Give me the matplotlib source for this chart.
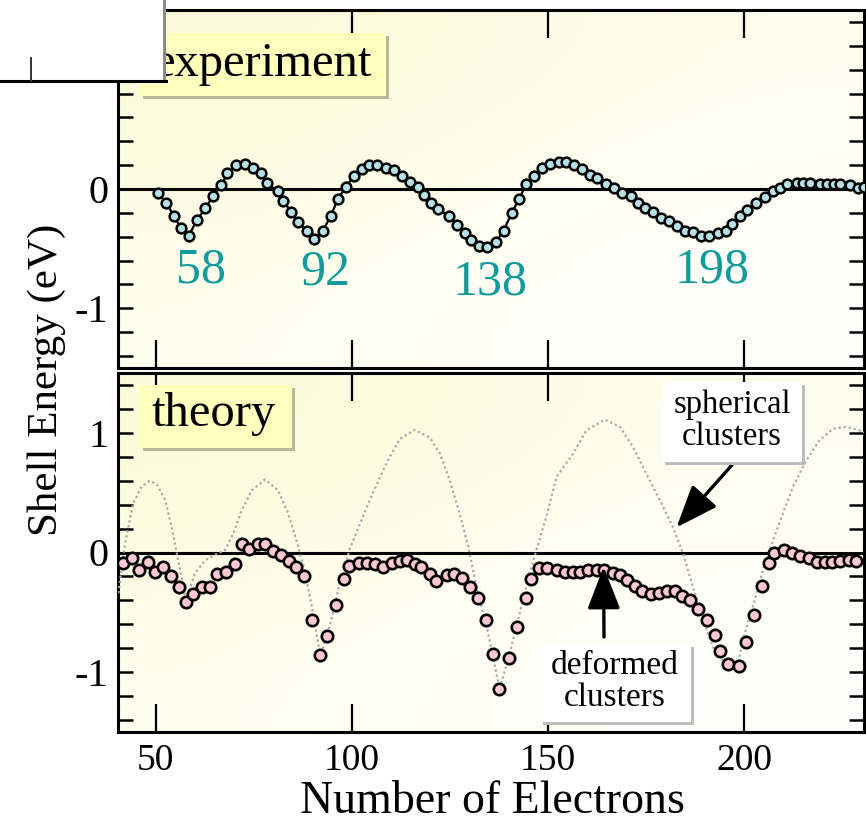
import numpy as np
import matplotlib
matplotlib.use("Agg")
import matplotlib.pyplot as plt
from matplotlib.patches import Rectangle
from matplotlib.lines import Line2D
from matplotlib.colors import LinearSegmentedColormap
from matplotlib.ticker import FixedLocator, FixedFormatter, MultipleLocator

plt.rcParams['font.family'] = ['Liberation Serif', 'DejaVu Serif']
plt.rcParams['axes.unicode_minus'] = False

# experiment: shell energy vs number of electrons
n_exp = [50.6, 52.7, 54.8, 56.4, 58.5, 60.5, 62.7, 64.6, 66.7, 68.3, 70.4, 72.7, 74.7,
         76.8, 78.4, 81.1, 82.4, 84.6, 86.4, 88.5, 90.3, 92.6, 94.6, 96.5, 98.6, 100.5,
         102.7, 104.4, 106.5, 108.8, 110.7, 112.8, 114.8, 116.9, 118.3, 120.3, 122.1,
         124.8, 126.8, 128.9, 130.4, 132.5, 134.5, 136.8, 138.7, 140.8, 142.7, 144.5,
         146.5, 148.5, 150.6, 152.8, 154.7, 156.7, 158.7, 160.8, 162.5, 164.8, 166.9,
         168.9, 171.1, 173.0, 174.7, 176.7, 178.8, 180.8, 182.9, 184.9, 187.0, 189.1,
         191.2, 193.4, 195.4, 197.0, 199.0, 200.8, 203.0, 205.4, 207.3, 209.2, 210.9,
         213.4, 215.1, 216.8, 219.3, 221.2, 222.9, 224.4, 227.0, 229.1, 230.6]
e_exp = [-0.03, -0.12, -0.23, -0.33, -0.39, -0.26, -0.16, -0.06, 0.03, 0.13, 0.20, 0.21,
         0.18, 0.13, 0.05, -0.02, -0.10, -0.19, -0.28, -0.35, -0.42, -0.35, -0.23, -0.08,
         0.02, 0.11, 0.17, 0.20, 0.20, 0.18, 0.16, 0.11, 0.06, 0.02, -0.05, -0.12, -0.17,
         -0.23, -0.30, -0.37, -0.43, -0.48, -0.49, -0.44, -0.35, -0.20, -0.08, 0.04, 0.11,
         0.18, 0.21, 0.23, 0.23, 0.20, 0.17, 0.12, 0.09, 0.04, 0.01, -0.03, -0.06, -0.12,
         -0.16, -0.19, -0.24, -0.27, -0.31, -0.35, -0.36, -0.39, -0.39, -0.37, -0.35,
         -0.29, -0.23, -0.18, -0.12, -0.07, -0.02, 0.01, 0.04, 0.05, 0.05, 0.05, 0.04,
         0.04, 0.04, 0.04, 0.03, 0.01, 0.02]

# theory: deformed clusters
n_th = [41.7, 43.9, 45.8, 48.0, 49.9, 51.9, 53.9, 55.9, 57.7, 59.6, 61.8, 63.8, 65.7,
        67.9, 70.2, 72.1, 73.8, 76.0, 77.8, 79.8, 81.9, 84.0, 85.8, 87.9, 89.8, 92.0,
        93.7, 95.9, 98.1, 99.3, 101.8, 103.8, 105.9, 108.0, 110.2, 112.3, 114.0, 116.1,
        117.6, 119.9, 121.6, 124.2, 126.1, 128.0, 130.1, 132.1, 134.2, 136.0, 137.6,
        140.1, 142.2, 144.3, 145.8, 147.8, 149.9, 152.2, 154.3, 156.3, 158.3, 160.3,
        162.4, 164.3, 166.5, 168.3, 170.3, 172.1, 174.1, 176.2, 178.3, 180.4, 182.3,
        184.3, 186.3, 188.4, 190.5, 192.5, 194.0, 195.9, 198.7, 200.4, 202.5, 204.5,
        206.4, 207.6, 210.1, 212.3, 214.4, 216.6, 218.6, 220.6, 222.4, 224.4, 226.8, 228.6]
e_th = [-0.09, -0.05, -0.15, -0.08, -0.16, -0.12, -0.20, -0.29, -0.41, -0.35, -0.29,
        -0.29, -0.18, -0.16, -0.10, 0.07, 0.03, 0.07, 0.07, 0.01, -0.02, -0.07, -0.12,
        -0.20, -0.56, -0.86, -0.70, -0.44, -0.22, -0.11, -0.09, -0.09, -0.10, -0.12,
        -0.09, -0.07, -0.06, -0.10, -0.12, -0.18, -0.24, -0.19, -0.18, -0.21, -0.29,
        -0.38, -0.56, -0.85, -1.14, -0.88, -0.62, -0.38, -0.22, -0.13, -0.13, -0.15,
        -0.16, -0.16, -0.16, -0.15, -0.15, -0.15, -0.17, -0.19, -0.23, -0.28, -0.32,
        -0.35, -0.34, -0.32, -0.32, -0.36, -0.40, -0.47, -0.56, -0.69, -0.82, -0.93,
        -0.95, -0.75, -0.52, -0.28, -0.09, 0.00, 0.02, 0.00, -0.03, -0.05, -0.08, -0.08,
        -0.08, -0.07, -0.06, -0.07]

# theory: spherical clusters (dotted curve)
n_sph = [40.5, 42.2, 44.3, 46.4, 48.5, 50.3, 52.4, 54.1, 55.4, 56.6, 57.7, 60.0, 62.6,
         65.1, 67.7, 69.8, 71.9, 74.5, 77.9, 81.2, 83.8, 85.9, 88.0, 89.8, 92.0, 94.5,
         97.0, 99.5, 102.1, 104.6, 107.2, 109.7, 112.3, 116.1, 119.9, 122.5, 125.0,
         127.5, 129.7, 131.8, 134.4, 137.7, 140.3, 142.8, 145.3, 147.1, 149.6, 152.2,
         156.4, 159.8, 164.5, 168.4, 171.7, 175.1, 178.5, 181.9, 184.5, 187.0, 189.6,
         192.1, 195.1, 198.3, 199.7, 202.3, 204.8, 207.4, 209.9, 212.5, 215.9, 219.3,
         222.7, 226.1, 229.5, 231.0]
e_sph = [-0.34, 0.075, 0.41, 0.55, 0.60, 0.57, 0.44, 0.21, -0.01, -0.20, -0.41, -0.175,
         -0.065, -0.02, 0.02, 0.16, 0.35, 0.52, 0.61, 0.52, 0.325, 0.10, -0.15, -0.45,
         -0.87, -0.60, -0.25, 0.03, 0.24, 0.44, 0.63, 0.80, 0.95, 1.025, 0.96, 0.825,
         0.60, 0.325, 0.05, -0.29, -0.62, -1.14, -0.84, -0.51, -0.175, 0.02, 0.30, 0.63,
         0.825, 1.02, 1.11, 1.05, 0.88, 0.66, 0.44, 0.21, -0.01, -0.29, -0.56, -0.79,
         -0.925, -0.97, -0.73, -0.45, -0.15, 0.10, 0.325, 0.55, 0.77, 0.94, 1.035, 1.05,
         1.02, 1.0]

magic = ['58', '92', '138', '198']
x_ticks = [50, 100, 150, 200]
y_ticks = [-1, 0, 1]
top_labels = ['-1', '0', '']      # the "1" of the top panel is hidden in the original
bottom_labels = ['-1', '0', '1']

W, H = 866, 826


def fx(x):
    return x / W


def fy(y):
    return 1 - y / H


fig = plt.figure(figsize=(W / 100, H / 100), dpi=100)
ax1 = fig.add_axes([fx(118), fy(368), (864 - 118) / W, (368 - 10) / H])
ax2 = fig.add_axes([fx(118), fy(732), (864 - 118) / W, (732 - 373) / H])

bg = LinearSegmentedColormap.from_list('bg', ['#fbfbd8', '#fefef0', '#ffffff'])
for ax, labels in ((ax1, top_labels), (ax2, bottom_labels)):
    ax.imshow([[0.0, 0.45], [0.45, 1.0]], cmap=bg, vmin=0, vmax=1, extent=(0, 1, 0, 1),
              transform=ax.transAxes, aspect='auto', interpolation='bicubic', zorder=0)
    ax.axhline(0, color='black', lw=2.2, zorder=2)
    ax.set_xlim(40.4, 230.6)
    ax.set_ylim(-1.5, 1.5)
    ax.xaxis.set_major_locator(FixedLocator(x_ticks))
    ax.yaxis.set_major_locator(FixedLocator(y_ticks))
    ax.yaxis.set_major_formatter(FixedFormatter(labels))
    ax.yaxis.set_minor_locator(MultipleLocator(0.2))
    ax.tick_params(axis='x', which='major', direction='in', length=20, width=1.6,
                   top=True, bottom=True, labelsize=27, pad=8)
    ax.tick_params(axis='x', which='minor', length=0)
    ax.tick_params(axis='y', which='both', direction='in', length=11, width=1.8,
                   left=True, right=True, labelsize=29, pad=7)
    for s in ax.spines.values():
        s.set_linewidth(2.2)
ax1.tick_params(labelbottom=False)

# experiment curve
ax1.plot(n_exp, e_exp, '-o', color='black', lw=1.6, mfc='#b4e0e6', mec='black',
         ms=7.0, mew=1.8, zorder=4)

# theory curves
ax2.plot(n_sph, e_sph, linestyle=(0, (1, 1.3)), color='#a9a9a9', lw=1.6, zorder=3)
ax2.plot(n_th, e_th, 'o', linestyle='none', mfc='#ffc8d2', mec='black', ms=8.2,
         mew=1.9, zorder=4)


def box(x0, y0, x1, y1, face, shade, z):
    fig.add_artist(Rectangle((fx(x0) + 3 / W, fy(y1) - 3 / H), (x1 - x0) / W, (y1 - y0) / H,
                             transform=fig.transFigure, facecolor=shade, edgecolor='none',
                             zorder=z))
    fig.add_artist(Rectangle((fx(x0), fy(y1)), (x1 - x0) / W, (y1 - y0) / H,
                             transform=fig.transFigure, facecolor=face, edgecolor='none',
                             zorder=z + 0.1))


box(140, 33, 386, 96, '#ffffbe', '#b8b89a', 5)
fig.text(fx(262), fy(64), 'experiment', fontsize=35, ha='center', va='center', zorder=6)
box(140, 385, 292, 448, '#ffffbe', '#b8b89a', 5)
fig.text(fx(214), fy(414), 'theory', fontsize=35, ha='center', va='center', zorder=6)

box(662, 382, 802, 462, 'white', '#bdbdbd', 5)
fig.text(fx(732), fy(421), 'spherical\nclusters', fontsize=23.5, ha='center', va='center',
         linespacing=1.05, zorder=6)
box(540, 644, 691, 722, 'white', '#bdbdbd', 5)
fig.text(fx(615), fy(682), 'deformed\nclusters', fontsize=24, ha='center', va='center',
         linespacing=1.05, zorder=6)

arrow = dict(arrowstyle='-|>,head_length=0.9,head_width=0.35', lw=2.4, color='black',
             mutation_scale=29, shrinkA=0, shrinkB=0)
ax2.annotate('', xy=(182.8, 0.21), xytext=(fx(732), fy(465)),
             textcoords='figure fraction', arrowprops=arrow, zorder=7)
ax2.annotate('', xy=(164.2, -0.12), xytext=(fx(604), fy(637)),
             textcoords='figure fraction', arrowprops=arrow, zorder=7)

# magic numbers
for lab, (px, py) in zip(magic, [(201, 270), (325, 272), (490, 282), (712, 270)]):
    fig.text(fx(px), fy(py), lab, fontsize=36, color='#139a9a', ha='center', va='center',
             zorder=6)

fig.text(fx(47), fy(380), 'Shell Energy (eV)', fontsize=31, rotation=90, ha='center',
         va='center')
fig.text(fx(492), fy(813), 'Number of Electrons', fontsize=33, ha='center', va='baseline')

# white panel overlapping top-left corner
fig.add_artist(Rectangle((0, fy(81)), 165 / W, 81 / H, transform=fig.transFigure,
                         facecolor='white', edgecolor='none', zorder=20))
fig.add_artist(Line2D([fx(164), fx(164)], [fy(0), fy(81)], transform=fig.transFigure,
                      color='#8c8c8c', lw=2.2, zorder=21))
fig.add_artist(Line2D([0, fx(166)], [fy(81), fy(81)], transform=fig.transFigure,
                      color='black', lw=2.2, zorder=21))
fig.add_artist(Line2D([fx(31), fx(31)], [fy(58), fy(81)], transform=fig.transFigure,
                      color='#333333', lw=1.4, zorder=21))

fig.savefig('out.png', dpi=100)
